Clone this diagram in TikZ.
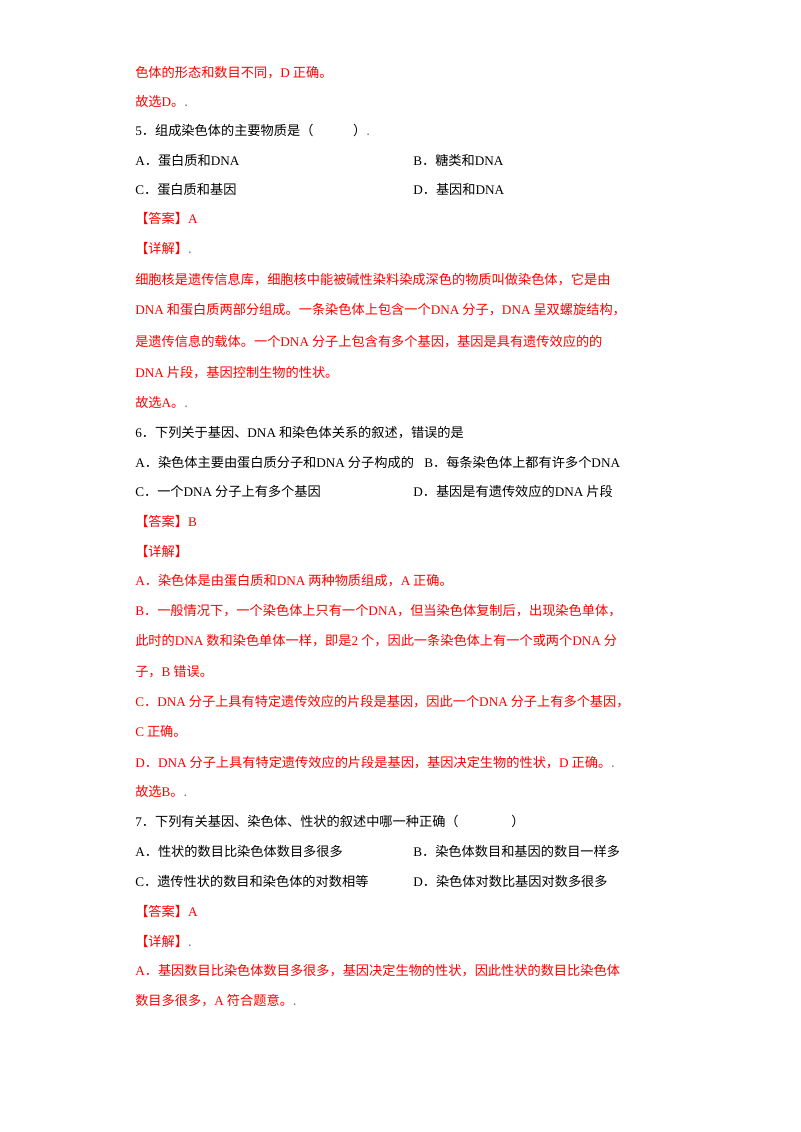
\documentclass[tikz,border=0pt]{standalone}
\usepackage{fontspec}
\setmainfont{Liberation Serif}
\newfontfamily\cjk{Noto Sans CJK SC}
\newcommand\en[1]{{\rmfamily #1}}
\newcommand\dd{{\color{gray}.}}
\definecolor{ansred}{RGB}{255,0,0}
\tikzset{
  txt/.style={anchor=base west, inner sep=0pt, font=\cjk\fontsize{9.9}{12}\selectfont},
  redtxt/.style={txt, text=ansred}
}

\begin{document}
\begin{tikzpicture}[x=0.75pt,y=-0.75pt]
    % page
    \useasboundingbox (0,0) rectangle (800,1132);

    % Question 4 (end)
    \node[redtxt] (q4a) at (135,77)  {色体的形态和数目不同，\en{D} 正确。};
    \node[redtxt] (q4b) at (135,106) {故选\en{D}。\dd};

    % Question 5
    \node[txt] (q5)  at (135,135) {\en{5}．组成染色体的主要物质是（\hspace{3em}）\dd};
    \node[txt] (q5A) at (135,165) {\en{A}．蛋白质和\en{DNA}};
    \node[txt] (q5B) at (413,165) {\en{B}．糖类和\en{DNA}};
    \node[txt] (q5C) at (135,194) {\en{C}．蛋白质和基因};
    \node[txt] (q5D) at (413,194) {\en{D}．基因和\en{DNA}};
    \node[redtxt] (a5)  at (135,223) {【答案】\en{A}};
    \node[redtxt] (x5)  at (135,253) {【详解】\dd};
    \node[redtxt] (x51) at (135,284) {细胞核是遗传信息库，细胞核中能被碱性染料染成深色的物质叫做染色体，它是由};
    \node[redtxt] (x52) at (135,314) {\en{DNA} 和蛋白质两部分组成。一条染色体上包含一个\en{DNA} 分子，\en{DNA} 呈双螺旋结构，};
    \node[redtxt] (x53) at (135,346) {是遗传信息的载体。一个\en{DNA} 分子上包含有多个基因，基因是具有遗传效应的的};
    \node[redtxt] (x54) at (135,377) {\en{DNA} 片段，基因控制生物的性状。};
    \node[redtxt] (x55) at (135,407) {故选\en{A}。\dd};

    % Question 6
    \node[txt] (q6)  at (135,437) {\en{6}．下列关于基因、\en{DNA} 和染色体关系的叙述，错误的是};
    \node[txt] (q6A) at (135,467) {\en{A}．染色体主要由蛋白质分子和\en{DNA} 分子构成的};
    \node[txt] (q6B) at (424,467) {\en{B}．每条染色体上都有许多个\en{DNA}};
    \node[txt] (q6C) at (135,496) {\en{C}．一个\en{DNA} 分子上有多个基因};
    \node[txt] (q6D) at (413,496) {\en{D}．基因是有遗传效应的\en{DNA} 片段};
    \node[redtxt] (a6)  at (135,526) {【答案】\en{B}};
    \node[redtxt] (x6)  at (135,556) {【详解】};
    \node[redtxt] (x61) at (135,585) {\en{A}．染色体是由蛋白质和\en{DNA} 两种物质组成，\en{A} 正确。};
    \node[redtxt] (x62) at (135,615) {\en{B}．一般情况下，一个染色体上只有一个\en{DNA}，但当染色体复制后，出现染色单体，};
    \node[redtxt] (x63) at (135,645) {此时的\en{DNA} 数和染色单体一样，即是\en{2} 个，因此一条染色体上有一个或两个\en{DNA} 分};
    \node[redtxt] (x64) at (135,676) {子，\en{B} 错误。};
    \node[redtxt] (x65) at (135,706) {\en{C}．\en{DNA} 分子上具有特定遗传效应的片段是基因，因此一个\en{DNA} 分子上有多个基因，};
    \node[redtxt] (x66) at (135,736) {\en{C} 正确。};
    \node[redtxt] (x67) at (135,767) {\en{D}．\en{DNA} 分子上具有特定遗传效应的片段是基因，基因决定生物的性状，\en{D} 正确。\dd};
    \node[redtxt] (x68) at (135,796) {故选\en{B}。\dd};

    % Question 7
    \node[txt] (q7)  at (135,826) {\en{7}．下列有关基因、染色体、性状的叙述中哪一种正确（\hspace{4em}）};
    \node[txt] (q7A) at (135,856) {\en{A}．性状的数目比染色体数目多很多};
    \node[txt] (q7B) at (413,856) {\en{B}．染色体数目和基因的数目一样多};
    \node[txt] (q7C) at (135,886) {\en{C}．遗传性状的数目和染色体的对数相等};
    \node[txt] (q7D) at (413,886) {\en{D}．染色体对数比基因对数多很多};
    \node[redtxt] (a7)  at (135,916) {【答案】\en{A}};
    \node[redtxt] (x7)  at (135,946) {【详解】\dd};
    \node[redtxt] (x71) at (135,975) {\en{A}．基因数目比染色体数目多很多，基因决定生物的性状，因此性状的数目比染色体};
    \node[redtxt] (x72) at (135,1005) {数目多很多，\en{A} 符合题意。\dd};

\end{tikzpicture}
\end{document}
